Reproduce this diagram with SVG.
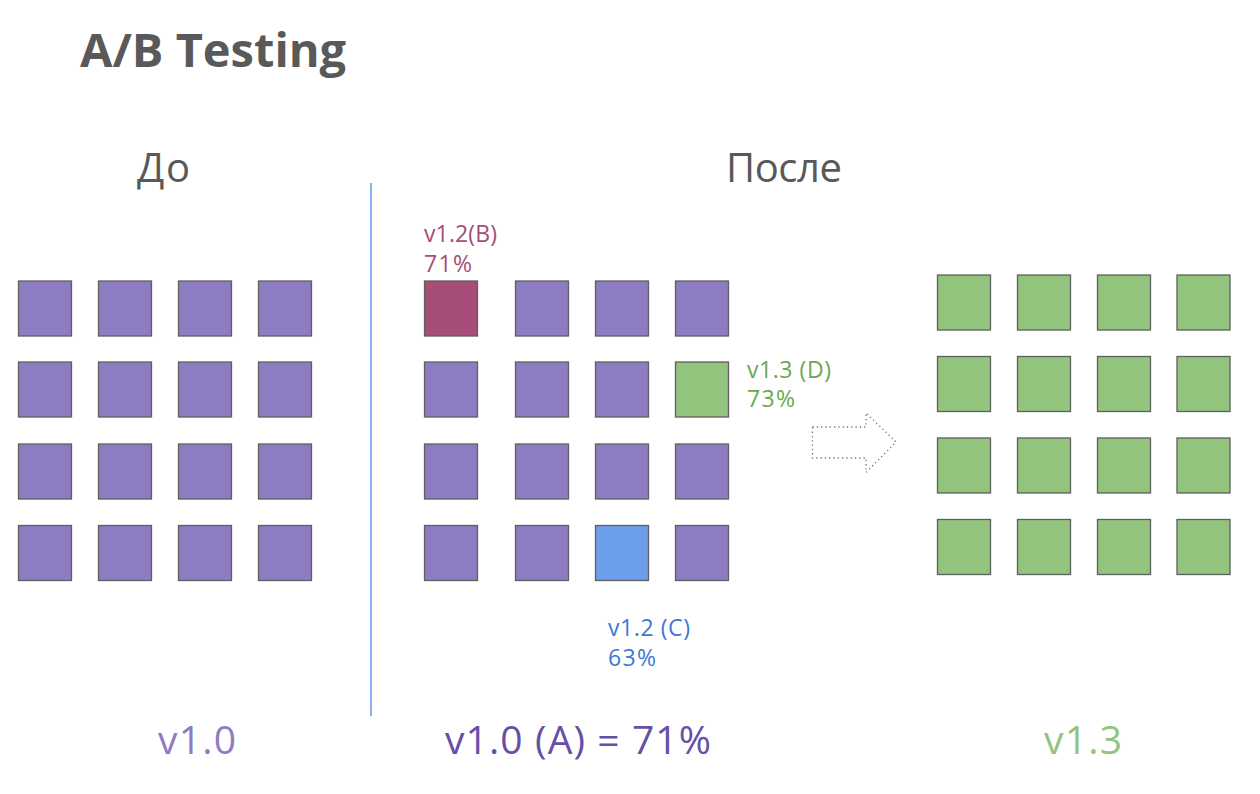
<svg xmlns="http://www.w3.org/2000/svg" width="1260" height="794" viewBox="0 0 1260 794">
<style>
.sq{stroke:#5f5f5f;stroke-width:1.3}
.p{fill:#8e7cc3}.g{fill:#93c47d}.b{fill:#a64d79}.c{fill:#6d9eeb}
text{font-family:"Open Sans","Noto Sans","DejaVu Sans",sans-serif}
.h{font-size:40px;fill:#595959}
.lab{font-size:23px}
.big{font-size:39px}
</style>
<defs>
<rect id="s" width="53" height="55"/>
</defs>
<rect width="1260" height="794" fill="#fff"/>
<text x="80" y="67" font-size="47" font-weight="bold" fill="#595959">A/B Testing</text>
<text class="h" x="137" y="182" textLength="53">До</text>
<text class="h" x="726" y="182" textLength="116">После</text>

<g id="before">
<g class="sq p">
<use href="#s" x="18.5" y="281"/><use href="#s" x="98.5" y="281"/><use href="#s" x="178.5" y="281"/><use href="#s" x="258.5" y="281"/>
<use href="#s" x="18.5" y="362"/><use href="#s" x="98.5" y="362"/><use href="#s" x="178.5" y="362"/><use href="#s" x="258.5" y="362"/>
<use href="#s" x="18.5" y="444"/><use href="#s" x="98.5" y="444"/><use href="#s" x="178.5" y="444"/><use href="#s" x="258.5" y="444"/>
<use href="#s" x="18.5" y="525.5"/><use href="#s" x="98.5" y="525.5"/><use href="#s" x="178.5" y="525.5"/><use href="#s" x="258.5" y="525.5"/>
</g>
</g>

<g id="after">
<g class="sq p">
<use href="#s" x="515.5" y="281"/><use href="#s" x="595.5" y="281"/><use href="#s" x="675.5" y="281"/>
<use href="#s" x="424.5" y="362"/><use href="#s" x="515.5" y="362"/><use href="#s" x="595.5" y="362"/>
<use href="#s" x="424.5" y="444"/><use href="#s" x="515.5" y="444"/><use href="#s" x="595.5" y="444"/><use href="#s" x="675.5" y="444"/>
<use href="#s" x="424.5" y="525.5"/><use href="#s" x="515.5" y="525.5"/><use href="#s" x="675.5" y="525.5"/>
</g>
<g id="nodeB"><use href="#s" class="sq b" x="424.5" y="281"/></g>
<g id="nodeD"><use href="#s" class="sq g" x="675.5" y="362"/></g>
<g id="nodeC"><use href="#s" class="sq c" x="595.5" y="525.5"/></g>
</g>

<g id="result">
<g class="sq g">
<use href="#s" x="937.5" y="275"/><use href="#s" x="1017.5" y="275"/><use href="#s" x="1097.5" y="275"/><use href="#s" x="1177" y="275"/>
<use href="#s" x="937.5" y="356.5"/><use href="#s" x="1017.5" y="356.5"/><use href="#s" x="1097.5" y="356.5"/><use href="#s" x="1177" y="356.5"/>
<use href="#s" x="937.5" y="438"/><use href="#s" x="1017.5" y="438"/><use href="#s" x="1097.5" y="438"/><use href="#s" x="1177" y="438"/>
<use href="#s" x="937.5" y="519.5"/><use href="#s" x="1017.5" y="519.5"/><use href="#s" x="1097.5" y="519.5"/><use href="#s" x="1177" y="519.5"/>
</g>
</g>

<g id="connectors">
<line x1="371" y1="183" x2="371" y2="716" stroke="#4a86e8" stroke-width="1.3"/>
<path d="M812.5 427 H866 V413 L896 442 L866 472.5 V458 H812.5 Z" fill="none" stroke="#777" stroke-width="1.3" stroke-dasharray="1.3 3"/>
</g>

<g class="lab">
<text x="424" y="242" fill="#a64d79" textLength="73">v1.2(B)</text>
<text x="424" y="272" fill="#a64d79" textLength="48">71%</text>
<text x="747" y="378" fill="#6aa84f" textLength="84">v1.3 (D)</text>
<text x="747" y="407" fill="#6aa84f" textLength="48">73%</text>
<text x="608" y="636" fill="#3c78d8" textLength="82">v1.2 (C)</text>
<text x="608" y="666" fill="#3c78d8" textLength="48">63%</text>
</g>

<text class="big" x="158" y="754" fill="#8e7cc3" textLength="78">v1.0</text>
<text class="big" x="445" y="754" fill="#674ea7" textLength="266">v1.0 (A) = 71%</text>
<text class="big" x="1044" y="754" fill="#93c47d" textLength="78">v1.3</text>
</svg>
